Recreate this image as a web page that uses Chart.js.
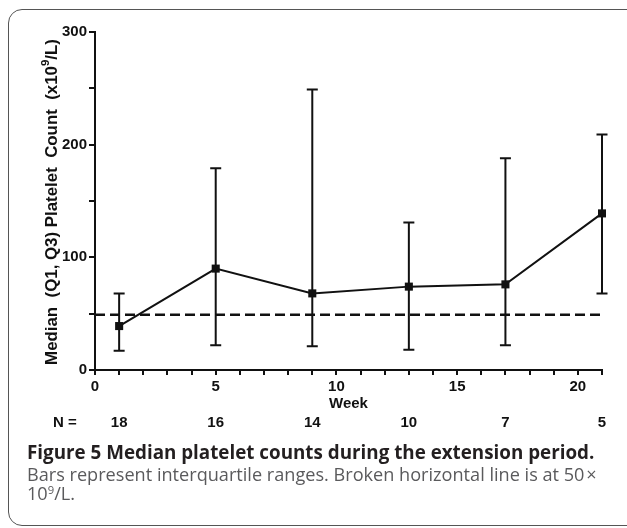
<!DOCTYPE html>
<html>
<head>
<meta charset="utf-8">
<script src="https://cdn.jsdelivr.net/npm/chart.js@4.4.1/dist/chart.umd.min.js"></script>
<style>
  body { margin: 0; background: #fff; }
  #wrap { position: relative; width: 627px; height: 528px; overflow: hidden; }
  #frame { position: absolute; left: 8px; top: 9px; width: 700px; height: 515px;
           border: 1.5px solid #555; border-radius: 14px; }
  #grafico { position: absolute; left: 0; top: 0; }
  .cap { position: absolute; left: 27px; font-family: 'Open Sans', sans-serif;
         line-height: 1.2; white-space: nowrap; }
  #l1 { color: #231f20; font-weight: bold; }
  #l2, #l3 { color: #5a5a5c; }
  .cap sup { font-size: 0.62em; line-height: 0; vertical-align: 0.55em; }
</style>
</head>
<body>
<div id="wrap">
  <div id="frame"></div>
  <canvas id="grafico" width="627" height="440"></canvas>
  <div class="cap" id="l1">Figure 5 Median platelet counts during the extension period.</div>
  <div class="cap" id="l2">Bars represent interquartile ranges. Broken horizontal line is at 50&#8202;×</div>
  <div class="cap" id="l3">10<sup>9</sup>/L.</div>
</div>
<script>
'use strict';
// valores
const weeks = [1, 5, 9, 13, 17, 21];
const medians = [39, 90, 68, 74, 76, 139];
const q1 = [17, 22, 21, 18, 22, 68];
const q3 = [68, 179, 249, 131, 188, 209];
const nPatients = [18, 16, 14, 10, 7, 5];
const refLine = 49;
const xLabels = [0, 5, 10, 15, 20];
const yLabels = [0, 100, 200, 300];

const FAM = "'Liberation Sans', Arial, sans-serif";
const boldFont = { family: FAM, size: 15, weight: 'bold' };

// ajusta a legenda (largura medida no original)
const medidor = document.createElement('canvas').getContext('2d');
function ajustaLinha(id, largura, baseline, tamanho) {
  const el = document.getElementById(id);
  const peso = id === 'l1' ? 'bold ' : '';
  let fs = tamanho;
  if (!fs) {
    medidor.font = peso + "100px 'Open Sans', sans-serif";
    fs = 100 * largura / medidor.measureText(el.textContent).width;
  }
  el.style.fontSize = fs + 'px';
  el.style.top = (baseline - 0.988 * fs) + 'px';
  return fs;
}
ajustaLinha('l1', 568, 460);
const fsReg = ajustaLinha('l2', 570, 481.5);
ajustaLinha('l3', 0, 501, fsReg);

// barras de erro (Q1, Q3)
const errorBars = {
  id: 'errorBars',
  beforeDatasetsDraw(chart) {
    const ctx = chart.ctx;
    const y = chart.scales.y;
    const meta = chart.getDatasetMeta(0);
    ctx.save();
    ctx.strokeStyle = '#111';
    ctx.lineWidth = 2;
    meta.data.forEach((pt, i) => {
      const top = y.getPixelForValue(q3[i]);
      const bot = y.getPixelForValue(q1[i]);
      ctx.beginPath();
      ctx.moveTo(pt.x, top); ctx.lineTo(pt.x, bot);
      ctx.moveTo(pt.x - 5.5, top); ctx.lineTo(pt.x + 5.5, top);
      ctx.moveTo(pt.x - 5.5, bot); ctx.lineTo(pt.x + 5.5, bot);
      ctx.stroke();
    });
    ctx.restore();
  }
};

// titulo do eixo y com expoente e linha N =
const extras = {
  id: 'extras',
  afterDraw(chart) {
    const ctx = chart.ctx;
    const x = chart.scales.x;
    const area = chart.chartArea;
    ctx.save();
    ctx.fillStyle = '#111';
    ctx.font = 'bold 15px ' + FAM;
    ctx.textAlign = 'center';
    ctx.textBaseline = 'middle';
    ctx.fillText('N =', 65, 423);
    weeks.forEach((w, i) => ctx.fillText(String(nPatients[i]), x.getPixelForValue(w), 423));

    // titulo: tamanho calculado para ocupar ~326px
    const p1 = 'Median  (Q1, Q3) Platelet  Count  (x10';
    const p3 = '/L)';
    ctx.font = 'bold 100px ' + FAM;
    const base = ctx.measureText(p1 + p3).width + ctx.measureText('9').width * 0.68;
    const fs = 100 * 326 / base;
    const fsSup = fs * 0.68;
    ctx.font = 'bold ' + fs + 'px ' + FAM;
    const w1 = ctx.measureText(p1).width;
    const w3 = ctx.measureText(p3).width;
    ctx.font = 'bold ' + fsSup + 'px ' + FAM;
    const w2 = ctx.measureText('9').width;
    const total = w1 + w2 + w3;
    ctx.translate(52, (area.top + area.bottom) / 2 + 1);
    ctx.rotate(-Math.PI / 2);
    ctx.textAlign = 'left';
    ctx.font = 'bold ' + fs + 'px ' + FAM;
    ctx.fillText(p1, -total / 2, 0);
    ctx.font = 'bold ' + fsSup + 'px ' + FAM;
    ctx.fillText('9', -total / 2 + w1, -fs * 0.36);
    ctx.font = 'bold ' + fs + 'px ' + FAM;
    ctx.fillText(p3, -total / 2 + w1 + w2, 0);
    ctx.restore();
  }
};

const ctx = document.getElementById('grafico');
new Chart(ctx, {
  type: 'scatter',
  data: {
    datasets: [{
      data: weeks.map((w, i) => ({ x: w, y: medians[i] })),
      showLine: true,
      borderColor: '#111',
      borderWidth: 2,
      pointStyle: 'rect',
      pointRadius: 5.7,
      pointBackgroundColor: '#111',
      pointBorderColor: '#111',
      pointBorderWidth: 0,
      clip: false
    }, {
      data: [{ x: 0, y: refLine }, { x: 21, y: refLine }],
      showLine: true,
      borderColor: '#111',
      borderWidth: 2.5,
      borderDash: [10, 5],
      pointRadius: 0
    }]
  },
  options: {
    responsive: false,
    animation: false,
    layout: { padding: { top: 32, right: 25, bottom: 0, left: 0 } },
    plugins: { legend: { display: false }, tooltip: { enabled: false } },
    scales: {
      x: {
        type: 'linear', min: 0, max: 21,
        afterFit: (s) => { s.height = 70; },
        ticks: { stepSize: 1, autoSkip: false, maxRotation: 0, padding: 3, color: '#111', font: boldFont,
                 callback: (v) => xLabels.includes(v) ? String(v) : '' },
        grid: { drawOnChartArea: false, drawTicks: true, tickLength: 5, color: '#111', lineWidth: 2 },
        border: { display: true, color: '#111', width: 2 },
        title: { display: true, text: 'Week', color: '#111', font: boldFont, padding: { top: 0, bottom: 27 } }
      },
      y: {
        min: 0, max: 300,
        afterFit: (s) => { s.width = 95; },
        ticks: { stepSize: 50, autoSkip: false, padding: 2, color: '#111', font: boldFont,
                 callback: (v) => yLabels.includes(v) ? String(v) : '' },
        grid: { drawOnChartArea: false, drawTicks: true, tickLength: 6, color: '#111', lineWidth: 2 },
        border: { display: true, color: '#111', width: 2 }
      }
    }
  },
  plugins: [errorBars, extras]
});
</script>
</body>
</html>
